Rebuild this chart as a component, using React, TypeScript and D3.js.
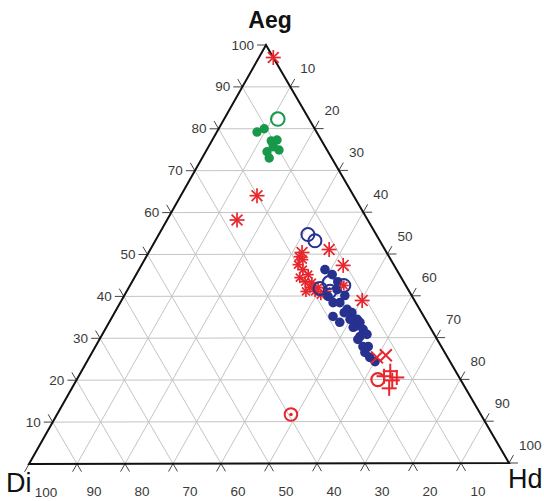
import React from "react";
import * as d3 from "d3";

// Compositions as [Aeg, Di, Hd] (%)
const tickValues = [10, 20, 30, 40, 50, 60, 70, 80, 90, 100];
const gridValues = [10, 20, 30, 40, 50, 60, 70, 80, 90];

const greenDots: number[][] = [
  [79.2, 12.4, 8.4], [80.0, 10.5, 9.5], [77.1, 10.5, 12.4], [77.3, 9.2, 13.5],
  [74.9, 10.0, 15.1], [74.5, 12.7, 12.8], [73.0, 13.0, 14.0], [75.7, 10.8, 13.5],
];
const greenCircles: number[][] = [[82.3, 6.5, 11.2]];

const redStarsBig: number[][] = [
  [97.0, 0.0, 3.0], [64.0, 20.1, 15.9], [58.2, 27.2, 14.6], [51.1, 11.6, 37.3],
  [47.3, 10.6, 42.1], [50.4, 17.6, 32.0], [38.9, 10.9, 50.2],
];
const redStarsSmall: number[][] = [
  [47.5, 19.9, 32.6], [46.3, 19.5, 34.2], [44.4, 21.1, 34.5], [43.4, 20.5, 36.1],
  [42.0, 20.2, 37.8], [41.1, 19.6, 39.3], [40.3, 18.8, 40.9], [45.1, 19.0, 35.9],
  [43.2, 19.2, 37.6], [48.7, 18.3, 33.0], [42.0, 18.5, 39.5], [49.4, 18.7, 31.9],
  [41.1, 17.3, 41.6], [41.1, 21.5, 37.4],
];
const redStarTop: number[][] = [[42.5, 12.9, 44.6]];

const blueDots: number[][] = [
  [45.1, 14.0, 40.9], [43.4, 13.7, 42.9], [38.4, 17.2, 44.4], [38.4, 15.8, 45.8],
  [36.8, 15.1, 48.1], [36.0, 14.5, 49.5], [34.4, 14.2, 51.4], [33.7, 14.0, 52.3],
  [32.7, 15.5, 51.8], [32.0, 14.2, 53.8], [30.8, 14.0, 55.2], [30.3, 15.7, 54.0],
  [27.9, 15.2, 56.9], [26.5, 16.6, 56.9], [25.3, 16.2, 58.5], [35.1, 18.9, 46.0],
  [33.7, 18.2, 48.1], [34.4, 15.7, 49.9], [32.5, 16.0, 51.5], [29.6, 16.5, 53.9],
  [27.9, 16.3, 55.8], [39.9, 17.5, 42.6], [40.1, 13.9, 46.0], [41.5, 14.8, 43.7],
  [24.3, 15.6, 60.1], [46.3, 14.9, 38.8], [36.0, 16.1, 47.9],
];
const blueCircles: number[][] = [
  [54.7, 14.2, 31.1], [53.2, 13.5, 33.3], [41.8, 18.2, 40.0], [43.2, 15.6, 41.2],
  [41.1, 16.5, 42.4], [42.5, 12.9, 44.6],
];

const redCrosses: number[][] = [[25.3, 14.7, 60.0], [25.8, 12.6, 61.6]];
const redPlus: number[][] = [
  [22.0, 13.6, 64.4], [19.8, 14.3, 65.9], [17.9, 15.9, 66.2], [20.5, 13.0, 66.5],
  [20.8, 15.5, 63.7],
];
const redCircles: number[][] = [[20.0, 17.2, 62.8]];
const redCircleDots: number[][] = [[11.7, 39.5, 48.8]];

const RED = "#e8262d";
const BLUE = "#27318f";
const GREEN = "#18984a";
const GRID = "#c4c4c4";

// vertex positions
const vDi = { x: 29, y: 464 };
const vHd = { x: 509, y: 463 };
const vAeg = { x: 266, y: 45 };
const frac = d3.scaleLinear().domain([0, 100]).range([0, 1]);

function project(aeg: number, di: number, hd: number) {
  const s = aeg + di + hd;
  const a = frac((aeg / s) * 100), d = frac((di / s) * 100), h = frac((hd / s) * 100);
  return {
    x: a * vAeg.x + d * vDi.x + h * vHd.x,
    y: a * vAeg.y + d * vDi.y + h * vHd.y,
  };
}

function norm(dx: number, dy: number) {
  const l = Math.hypot(dx, dy);
  return { x: dx / l, y: dy / l };
}
// directions
const dirLeftEdgeUp = norm(vAeg.x - vDi.x, vAeg.y - vDi.y); // "/" upward
const dirRightEdgeUp = norm(vAeg.x - vHd.x, vAeg.y - vHd.y); // "\" upward

function Star({ x, y, r, color }: { x: number; y: number; r: number; color: string }) {
  const d = r * 0.72;
  return (
    <g stroke={color} strokeWidth={1.7}>
      <line x1={x - r} y1={y} x2={x + r} y2={y} />
      <line x1={x} y1={y - r} x2={x} y2={y + r} />
      <line x1={x - d} y1={y - d} x2={x + d} y2={y + d} />
      <line x1={x - d} y1={y + d} x2={x + d} y2={y - d} />
    </g>
  );
}

export default function App() {
  const tl = 9;
  const grid: React.ReactNode[] = [];
  gridValues.forEach((v) => {
    const a1 = project(v, 100 - v, 0), a2 = project(v, 0, 100 - v);
    const d1 = project(100 - v, v, 0), d2 = project(0, v, 100 - v);
    const h1 = project(0, 100 - v, v), h2 = project(100 - v, 0, v);
    grid.push(<line key={"ga" + v} x1={a1.x} y1={a1.y} x2={a2.x} y2={a2.y} />);
    grid.push(<line key={"gd" + v} x1={d1.x} y1={d1.y} x2={d2.x} y2={d2.y} />);
    grid.push(<line key={"gh" + v} x1={h1.x} y1={h1.y} x2={h2.x} y2={h2.y} />);
  });

  const ticks: React.ReactNode[] = [];
  const labels: React.ReactNode[] = [];
  tickValues.forEach((v) => {
    // left axis: Aeg
    const pl = project(v, 100 - v, 0);
    ticks.push(<line key={"tlh" + v} x1={pl.x} y1={pl.y} x2={pl.x - tl} y2={pl.y} />);
    if (v < 100)
      ticks.push(
        <line key={"tld" + v} x1={pl.x} y1={pl.y} x2={pl.x + dirRightEdgeUp.x * tl} y2={pl.y + dirRightEdgeUp.y * tl} />
      );
    labels.push(
      <text key={"ll" + v} x={pl.x - 12} y={pl.y} textAnchor="end" dominantBaseline="central">{v}</text>
    );
    // bottom axis: Di
    const pb = project(0, v, 100 - v);
    if (v < 100)
      ticks.push(
        <line key={"tbd" + v} x1={pb.x} y1={pb.y} x2={pb.x - dirRightEdgeUp.x * tl} y2={pb.y - dirRightEdgeUp.y * tl} />
      );
    ticks.push(
      <line key={"tbh" + v} x1={pb.x} y1={pb.y} x2={pb.x - dirLeftEdgeUp.x * tl} y2={pb.y - dirLeftEdgeUp.y * tl} />
    );
    labels.push(
      <text key={"lb" + v} x={pb.x + 17} y={pb.y + 28} textAnchor="middle" dominantBaseline="central">{v}</text>
    );
    // right axis: Hd
    const pr = project(100 - v, 0, v);
    ticks.push(<line key={"trh" + v} x1={pr.x} y1={pr.y} x2={pr.x + tl} y2={pr.y} />);
    ticks.push(
      <line key={"trd" + v} x1={pr.x} y1={pr.y} x2={pr.x + dirLeftEdgeUp.x * tl} y2={pr.y + dirLeftEdgeUp.y * tl} />
    );
    labels.push(
      <text key={"lr" + v} x={pr.x + 10} y={pr.y - 18} textAnchor="start" dominantBaseline="central">{v}</text>
    );
  });

  const P = (c: number[]) => project(c[0], c[1], c[2]);

  return (
    <svg width={544} height={501} style={{ position: "absolute", left: 0, top: 0, background: "#fff" }}
      fontFamily="'Liberation Sans', Arial, sans-serif">
      <g stroke={GRID} strokeWidth={1}>{grid}</g>
      <g stroke="#444" strokeWidth={1}>{ticks}</g>
      <path
        d={`M${vDi.x},${vDi.y}L${vHd.x},${vHd.y}L${vAeg.x},${vAeg.y}Z`}
        fill="none" stroke="#111" strokeWidth={2} strokeLinejoin="miter"
      />
      <g fontSize={13.5} fill="#3a3a3a">{labels}</g>

      {redStarsSmall.map((c, i) => { const p = P(c); return <Star key={"rs" + i} x={p.x} y={p.y} r={5.5} color={RED} />; })}
      {redStarsBig.map((c, i) => { const p = P(c); return <Star key={"rb" + i} x={p.x} y={p.y} r={7.5} color={RED} />; })}

      {greenDots.map((c, i) => { const p = P(c); return <circle key={"gd" + i} cx={p.x} cy={p.y} r={4.7} fill={GREEN} />; })}
      {greenCircles.map((c, i) => { const p = P(c); return <circle key={"gc" + i} cx={p.x} cy={p.y} r={6.8} fill="none" stroke={GREEN} strokeWidth={2} />; })}

      {blueDots.map((c, i) => { const p = P(c); return <circle key={"bd" + i} cx={p.x} cy={p.y} r={4.8} fill={BLUE} />; })}
      {blueCircles.map((c, i) => { const p = P(c); return <circle key={"bc" + i} cx={p.x} cy={p.y} r={6.5} fill="none" stroke={BLUE} strokeWidth={2} />; })}

      {redStarTop.map((c, i) => { const p = P(c); return <Star key={"rt" + i} x={p.x} y={p.y} r={5} color={RED} />; })}
      {redCrosses.map((c, i) => {
        const p = P(c), r = 6;
        return (
          <g key={"rx" + i} stroke={RED} strokeWidth={2}>
            <line x1={p.x - r} y1={p.y - r} x2={p.x + r} y2={p.y + r} />
            <line x1={p.x - r} y1={p.y + r} x2={p.x + r} y2={p.y - r} />
          </g>
        );
      })}
      {redPlus.map((c, i) => {
        const p = P(c), r = 7.5;
        return (
          <g key={"rp" + i} stroke={RED} strokeWidth={2}>
            <line x1={p.x - r} y1={p.y} x2={p.x + r} y2={p.y} />
            <line x1={p.x} y1={p.y - r} x2={p.x} y2={p.y + r} />
          </g>
        );
      })}
      {redCircles.map((c, i) => { const p = P(c); return <circle key={"rc" + i} cx={p.x} cy={p.y} r={6.5} fill="none" stroke={RED} strokeWidth={2.2} />; })}
      {redCircleDots.map((c, i) => {
        const p = P(c);
        return (
          <g key={"rcd" + i}>
            <circle cx={p.x} cy={p.y} r={6.3} fill="none" stroke={RED} strokeWidth={2} />
            <circle cx={p.x} cy={p.y} r={1.8} fill={RED} />
          </g>
        );
      })}

      <text x={270} y={28} textAnchor="middle" fontSize={23} fontWeight="bold" fill="#111">Aeg</text>
      <text x={6} y={492} fontSize={27} fill="#111">Di</text>
      <text x={508} y={488} fontSize={27} fill="#111">Hd</text>
    </svg>
  );
}
